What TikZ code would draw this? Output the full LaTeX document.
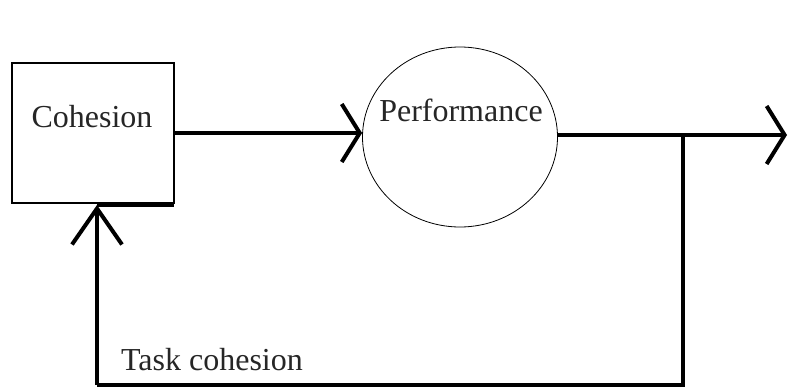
\documentclass[tikz,border=0pt]{standalone}
\usepackage{fontspec}
\setmainfont{Liberation Serif}
\usetikzlibrary{arrows.meta,shapes.geometric}
\begin{document}
\begin{tikzpicture}[x=1pt,y=-1pt,
  lbl/.style={font=\fontsize{32}{36}\selectfont, text=black!85, inner sep=0pt},
  boxnode/.style={draw, line width=1.3pt, minimum width=162pt, minimum height=140pt, inner sep=0pt},
  ellnode/.style={draw, ellipse, line width=0.8pt, minimum width=195pt, minimum height=180pt, inner sep=0pt},
  flow/.style={line width=4pt},
  barb/.style={flow, -{Straight Barb[length=18pt,width=58pt,line width=4pt]}},
  upbarb/.style={flow, -{Straight Barb[length=36pt,width=50pt,line width=4pt]}}]
\useasboundingbox (0,0) rectangle (788,388);
\fill[white] (0,0) rectangle (788,388);
\node[boxnode] (coh) at (93,133) {};
\node[lbl] (cohtxt) at (92,117) {Cohesion};
\node[ellnode] (perf) at (460,137) {};
\node[lbl] (perftxt) at (461,110) {Performance};
\node[lbl] (task) at (212,360) {Task cohesion};
\coordinate (outend) at (787,135);
\coordinate (junc) at (683,135);
\coordinate (corner) at (97,385);
\coordinate (fbtip) at (97,205);
\coordinate (fbend) at (174,205);
\draw[barb] (coh.east) -- (perf.west |- coh.east);
\draw[barb] (perf.east |- outend) -- (outend);
\draw[flow] (junc) -- (junc |- corner) -- (corner);
\draw[upbarb] (corner) -- (fbtip);
\draw[flow] (fbtip) -- (fbend);
\end{tikzpicture}
\end{document}
